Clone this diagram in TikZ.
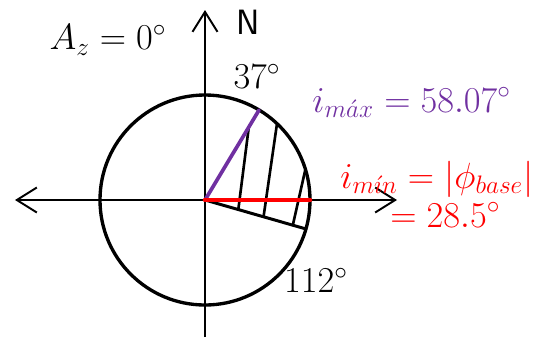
\documentclass[tikz,border=0pt]{standalone}
\usepackage{tkz-euclide}
\usetikzlibrary{arrows.meta,calc}
\definecolor{MaxClr}{rgb}{0.44,0.19,0.63}
\definecolor{MinClr}{rgb}{1,0,0}

\begin{document}
\begin{tikzpicture}[font=\fontsize{20}{24}\selectfont,
  axis/.style={line width=1.1pt,color=black},
  lbl/.style={inner sep=0pt},
  axtip/.tip={Straight Barb[length=4mm,width=5mm]}]
\useasboundingbox (-4.1,-2.74) rectangle (6.9,4.0);
\tkzSetUpLine[line width=1.7pt,color=black]

\tkzDefPoints{0/0/O,2.1/0/X,0/3.8/N,0/-2.74/S,-3.8/0/W,3.84/0/E}

\tkzDefPoint(59:2.1){M}
\tkzDefPoint(-16:2.1){L}
\tkzDefPoint(46.7:2.1){T2}
\tkzDefPoint(17:2.1){T3}

\coordinate (T1) at ($(O)!0.81!(M)$);
\coordinate (B1) at ($(O)!0.33!(L)$);
\coordinate (B2) at ($(O)!0.58!(L)$);
\coordinate (B3) at ($(O)!0.87!(L)$);

\tkzDrawCircle[line width=1.9pt,color=black](O,X)

\draw[axis,-axtip] (S) -- (N);
\draw[axis,axtip-axtip] (W) -- (E);

\tkzDrawSegments[line width=1.5pt](B1,T1 B2,T2 B3,T3)
\tkzDrawSegments(O,L)

\tkzDrawSegments[line width=2.1pt,color=MaxClr](O,M)
\tkzDrawSegments[line width=2.6pt,color=MinClr](O,X)

\node[lbl] (az) at (-1.94,3.2) {$A_z = 0^\circ$};
\node[lbl] (north) at (0.86,3.55) {\sffamily N};
\node[lbl] (a37) at (1.04,2.48) {$37^\circ$};
\node[lbl] (a112) at (2.22,-1.6) {$112^\circ$};
\node[lbl,anchor=base west,text=MaxClr] (imax) at (2.14,1.76)
  {$i_{m\acute{a}x} = 58.07^\circ$};
\node[lbl,anchor=base west,text=MinClr] (imin) at (2.7,0.24)
  {$i_{m\acute{\imath}n} = |\phi_{base}|$};
\node[lbl,anchor=base west,text=MinClr] (ival) at (3.7,-0.54)
  {$= 28.5^\circ$};

\end{tikzpicture}
\end{document}
